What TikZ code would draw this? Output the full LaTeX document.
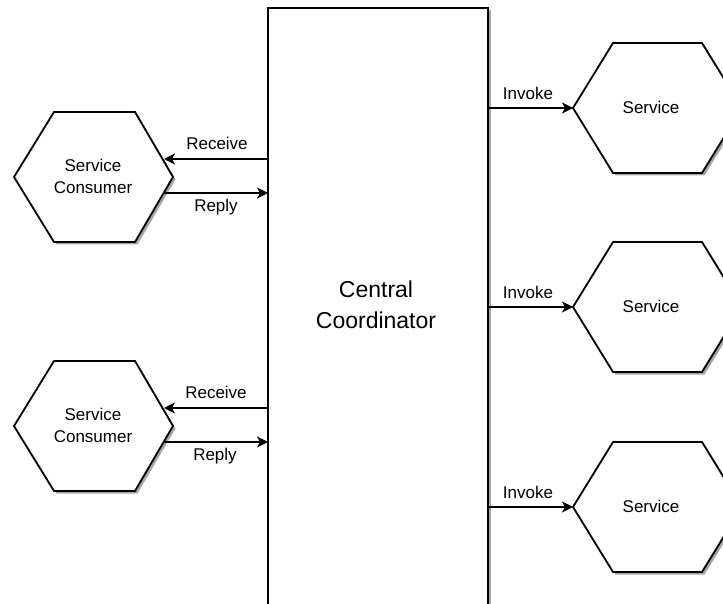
\documentclass[tikz,border=0pt]{standalone}
\usepackage{fontspec}
\setmainfont{Liberation Sans}
\usetikzlibrary{arrows.meta,shadows}
\begin{document}
\begin{tikzpicture}[x=1pt,y=-1pt,
  shp/.style={draw=black,line width=1.8pt,fill=white,line join=miter,
    drop shadow={shadow xshift=2.5pt,shadow yshift=-2.5pt,opacity=0.35,fill=black}},
  arr/.style={line width=1.8pt,-{Stealth[length=11pt,width=11pt,inset=3pt]}},
  lbl/.style={font=\fontsize{17}{21}\selectfont,inner sep=0pt},
  txt/.style={font=\fontsize{17}{22}\selectfont,align=center,inner sep=0pt},
  bigtxt/.style={font=\fontsize{23}{31}\selectfont,align=center,inner sep=0pt}]
\useasboundingbox (0,0) rectangle (723,604);
\clip (0,0) rectangle (723,604);
% central coordinator
\draw[shp] (268,8) rectangle (488,650);
\coordinate (ccw) at (268,0);
\coordinate (cce) at (488,0);
\node[bigtxt] (cc) at (376,305) {Central\\Coordinator};
% left consumers
\foreach \c/\n in {177/1,426/2}{
  \draw[shp] (14,\c) -- (54,\c-65) -- (135,\c-65) -- (173,\c) -- (135,\c+65) -- (54,\c+65) -- cycle;
  \node[txt] (sc\n) at (93,\c-1) {Service\\Consumer};
  \coordinate (rin\n) at (164,\c-18);
  \coordinate (rout\n) at (164,\c+16);
}
\draw[arr] (ccw |- rin1) -- (rin1);
\draw[arr] (rout1) -- (ccw |- rout1);
\draw[arr] (ccw |- rin2) -- (rin2);
\draw[arr] (rout2) -- (ccw |- rout2);
\node[lbl] (rc1) at (217,143) {Receive};
\node[lbl] (rp1) at (216,207) {Reply};
\node[lbl] (rc2) at (216,392) {Receive};
\node[lbl] (rp2) at (215,456) {Reply};
% right services
\foreach \c/\n in {108/1,307/2,507/3}{
  \draw[shp] (573,\c) -- (613,\c-65) -- (702,\c-65) -- (742,\c) -- (702,\c+65) -- (613,\c+65) -- cycle;
  \node[txt] (s\n) at (651,\c-1) {Service};
  \coordinate (sl\n) at (573,\c);
  \node[lbl] (inv\n) at (528,\c-15) {Invoke};
}
\draw[arr] (cce |- sl1) -- (sl1);
\draw[arr] (cce |- sl2) -- (sl2);
\draw[arr] (cce |- sl3) -- (sl3);
\end{tikzpicture}
\end{document}
